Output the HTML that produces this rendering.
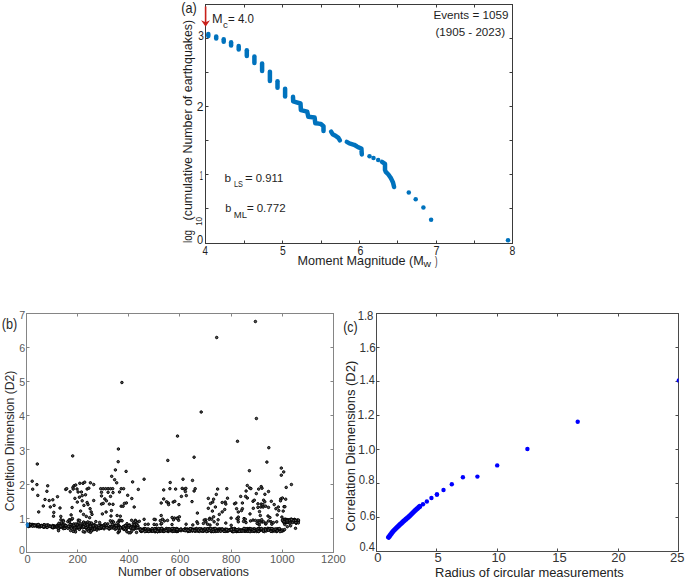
<!DOCTYPE html>
<html><head><meta charset="utf-8"><style>
html,body{margin:0;padding:0;background:#fff;}
svg{display:block;font-family:"Liberation Sans", sans-serif;}
</style></head><body>
<svg width="685" height="581" viewBox="0 0 685 581">
<rect width="685" height="581" fill="#fff"/>
<rect x="205.5" y="4.5" width="307.0" height="239.0" fill="none" stroke="#3a3a3a" stroke-width="1"/>
<line x1="244.5" y1="243.5" x2="244.5" y2="240.5" stroke="#3a3a3a" stroke-width="1"/>
<line x1="244.5" y1="4.5" x2="244.5" y2="7.5" stroke="#3a3a3a" stroke-width="1"/>
<line x1="282.5" y1="243.5" x2="282.5" y2="240.5" stroke="#3a3a3a" stroke-width="1"/>
<line x1="282.5" y1="4.5" x2="282.5" y2="7.5" stroke="#3a3a3a" stroke-width="1"/>
<line x1="321.5" y1="243.5" x2="321.5" y2="240.5" stroke="#3a3a3a" stroke-width="1"/>
<line x1="321.5" y1="4.5" x2="321.5" y2="7.5" stroke="#3a3a3a" stroke-width="1"/>
<line x1="359.5" y1="243.5" x2="359.5" y2="240.5" stroke="#3a3a3a" stroke-width="1"/>
<line x1="359.5" y1="4.5" x2="359.5" y2="7.5" stroke="#3a3a3a" stroke-width="1"/>
<line x1="397.5" y1="243.5" x2="397.5" y2="240.5" stroke="#3a3a3a" stroke-width="1"/>
<line x1="397.5" y1="4.5" x2="397.5" y2="7.5" stroke="#3a3a3a" stroke-width="1"/>
<line x1="436.5" y1="243.5" x2="436.5" y2="240.5" stroke="#3a3a3a" stroke-width="1"/>
<line x1="436.5" y1="4.5" x2="436.5" y2="7.5" stroke="#3a3a3a" stroke-width="1"/>
<line x1="474.5" y1="243.5" x2="474.5" y2="240.5" stroke="#3a3a3a" stroke-width="1"/>
<line x1="474.5" y1="4.5" x2="474.5" y2="7.5" stroke="#3a3a3a" stroke-width="1"/>
<line x1="205.5" y1="208.5" x2="208.5" y2="208.5" stroke="#3a3a3a" stroke-width="1"/>
<line x1="512.5" y1="208.5" x2="509.5" y2="208.5" stroke="#3a3a3a" stroke-width="1"/>
<line x1="205.5" y1="174.5" x2="208.5" y2="174.5" stroke="#3a3a3a" stroke-width="1"/>
<line x1="512.5" y1="174.5" x2="509.5" y2="174.5" stroke="#3a3a3a" stroke-width="1"/>
<line x1="205.5" y1="140.5" x2="208.5" y2="140.5" stroke="#3a3a3a" stroke-width="1"/>
<line x1="512.5" y1="140.5" x2="509.5" y2="140.5" stroke="#3a3a3a" stroke-width="1"/>
<line x1="205.5" y1="106.5" x2="208.5" y2="106.5" stroke="#3a3a3a" stroke-width="1"/>
<line x1="512.5" y1="106.5" x2="509.5" y2="106.5" stroke="#3a3a3a" stroke-width="1"/>
<line x1="205.5" y1="72.5" x2="208.5" y2="72.5" stroke="#3a3a3a" stroke-width="1"/>
<line x1="512.5" y1="72.5" x2="509.5" y2="72.5" stroke="#3a3a3a" stroke-width="1"/>
<line x1="205.5" y1="38.5" x2="208.5" y2="38.5" stroke="#3a3a3a" stroke-width="1"/>
<line x1="512.5" y1="38.5" x2="509.5" y2="38.5" stroke="#3a3a3a" stroke-width="1"/>
<line x1="208.3" y1="33.9" x2="208.3" y2="35.9" stroke="#0072bd" stroke-width="4.5" stroke-linecap="round"/>
<line x1="216.2" y1="36.6" x2="216.2" y2="38.4" stroke="#0072bd" stroke-width="4.5" stroke-linecap="round"/>
<line x1="223.7" y1="39.35" x2="223.7" y2="41.75" stroke="#0072bd" stroke-width="4.5" stroke-linecap="round"/>
<line x1="231.1" y1="42.25" x2="231.1" y2="45.45" stroke="#0072bd" stroke-width="4.5" stroke-linecap="round"/>
<line x1="238.7" y1="45.95" x2="238.7" y2="49.55" stroke="#0072bd" stroke-width="4.5" stroke-linecap="round"/>
<line x1="246.8" y1="50.35" x2="246.8" y2="56.05" stroke="#0072bd" stroke-width="4.5" stroke-linecap="round"/>
<line x1="254.4" y1="56.45" x2="254.4" y2="62.95" stroke="#0072bd" stroke-width="4.5" stroke-linecap="round"/>
<line x1="262.1" y1="63.55" x2="262.1" y2="70.95" stroke="#0072bd" stroke-width="4.5" stroke-linecap="round"/>
<line x1="269.9" y1="71.85" x2="269.9" y2="80.95" stroke="#0072bd" stroke-width="4.5" stroke-linecap="round"/>
<line x1="277.5" y1="81.35" x2="277.5" y2="87.85" stroke="#0072bd" stroke-width="4.5" stroke-linecap="round"/>
<line x1="285.1" y1="88.65" x2="285.1" y2="96.55" stroke="#0072bd" stroke-width="4.5" stroke-linecap="round"/>
<polyline points="293,96.8 293.2,101.3 300.5,103.5 300.9,110.1 307.2,111.6 308.3,116.8 314.6,117.5 315.3,123.3 318.4,123.6 320.9,124 323.5,126.2 323.5,131" fill="none" stroke="#0072bd" stroke-width="4.5" stroke-linecap="round" stroke-linejoin="round"/>
<polyline points="331.1,131.7 332.6,134.2 335.5,135.7 338.4,137.9 339.9,140.4" fill="none" stroke="#0072bd" stroke-width="4.5" stroke-linecap="round" stroke-linejoin="round"/>
<polyline points="346.8,141.9 349.4,143.4 354.1,144.8 356.7,146.3 358.5,147.4 361.4,148.5 361.8,154.4" fill="none" stroke="#0072bd" stroke-width="4.5" stroke-linecap="round" stroke-linejoin="round"/>
<polyline points="382,161.9 385,163.9 385,166.9 385,170 385.8,171.9 388.4,174.5 390.3,177.2 391.4,179.1 393,182.5 394.1,187" fill="none" stroke="#0072bd" stroke-width="4.5" stroke-linecap="round" stroke-linejoin="round"/>
<circle cx="369.5" cy="156.2" r="2.25" fill="#0072bd"/>
<circle cx="373.5" cy="158.1" r="2.25" fill="#0072bd"/>
<circle cx="378.2" cy="160" r="2.25" fill="#0072bd"/>
<circle cx="408.8" cy="192.4" r="2.25" fill="#0072bd"/>
<circle cx="415.7" cy="199.2" r="2.25" fill="#0072bd"/>
<circle cx="423.4" cy="207.6" r="2.25" fill="#0072bd"/>
<circle cx="431.1" cy="219.8" r="2.25" fill="#0072bd"/>
<circle cx="508" cy="240.2" r="2.25" fill="#0072bd"/>
<line x1="205.6" y1="6.5" x2="205.6" y2="23" stroke="#c8201a" stroke-width="1.6"/>
<path d="M201.1,20.3 L205.6,26.8 L210,20.3 L205.6,22.3 Z" fill="#c8201a"/>
<text x="202.43" y="254.70" font-size="12.1" textLength="5.41" lengthAdjust="spacingAndGlyphs" fill="#1e1e1e">4</text>
<text x="279.99" y="254.70" font-size="12.1" textLength="5.75" lengthAdjust="spacingAndGlyphs" fill="#1e1e1e">5</text>
<text x="357.41" y="254.70" font-size="12.1" textLength="5.91" lengthAdjust="spacingAndGlyphs" fill="#1e1e1e">6</text>
<text x="433.60" y="254.70" font-size="12.1" textLength="5.99" lengthAdjust="spacingAndGlyphs" fill="#1e1e1e">7</text>
<text x="509.50" y="254.70" font-size="12.1" textLength="5.80" lengthAdjust="spacingAndGlyphs" fill="#1e1e1e">8</text>
<text x="198.27" y="39.50" font-size="12.1" textLength="5.63" lengthAdjust="spacingAndGlyphs" fill="#1e1e1e">3</text>
<text x="196.75" y="110.60" font-size="12.1" textLength="6.71" lengthAdjust="spacingAndGlyphs" fill="#1e1e1e">2</text>
<text x="199.83" y="179.60" font-size="12.1" textLength="3.10" lengthAdjust="spacingAndGlyphs" fill="#1e1e1e">1</text>
<text x="196.92" y="243.60" font-size="12.1" textLength="6.17" lengthAdjust="spacingAndGlyphs" fill="#1e1e1e">0</text>
<text x="181.37" y="13.20" font-size="14.3" textLength="15.47" lengthAdjust="spacingAndGlyphs" fill="#1e1e1e">(a)</text>
<text x="212.11" y="22.60" font-size="12.3" textLength="10.58" lengthAdjust="spacingAndGlyphs" fill="#1e1e1e">M</text>
<text x="223.04" y="27.60" font-size="9.5" textLength="4.86" lengthAdjust="spacingAndGlyphs" fill="#1e1e1e">c</text>
<text x="227.99" y="22.60" font-size="12.3" textLength="25.91" lengthAdjust="spacingAndGlyphs" fill="#1e1e1e">= 4.0</text>
<text x="433.49" y="18.70" font-size="11.8" textLength="75.01" lengthAdjust="spacingAndGlyphs" fill="#1e1e1e">Events = 1059</text>
<text x="435.53" y="35.80" font-size="11.7" textLength="69.54" lengthAdjust="spacingAndGlyphs" fill="#1e1e1e">(1905 - 2023)</text>
<text x="224.48" y="182.00" font-size="11.6" textLength="6.56" lengthAdjust="spacingAndGlyphs" fill="#1e1e1e">b</text>
<text x="234.05" y="186.70" font-size="8.7" textLength="8.94" lengthAdjust="spacingAndGlyphs" fill="#1e1e1e">LS</text>
<text x="245.10" y="182.00" font-size="11.4" textLength="7.69" lengthAdjust="spacingAndGlyphs" fill="#1e1e1e">=</text>
<text x="255.81" y="182.00" font-size="11.3" textLength="27.40" lengthAdjust="spacingAndGlyphs" fill="#1e1e1e">0.911</text>
<text x="225.24" y="212.40" font-size="11.6" textLength="6.07" lengthAdjust="spacingAndGlyphs" fill="#1e1e1e">b</text>
<text x="233.87" y="217.80" font-size="8.7" textLength="13.19" lengthAdjust="spacingAndGlyphs" fill="#1e1e1e">ML</text>
<text x="246.86" y="212.40" font-size="11.4" textLength="7.09" lengthAdjust="spacingAndGlyphs" fill="#1e1e1e">=</text>
<text x="256.70" y="212.40" font-size="11.3" textLength="28.93" lengthAdjust="spacingAndGlyphs" fill="#1e1e1e">0.772</text>
<text x="297.51" y="264.80" font-size="12.6" textLength="126.27" lengthAdjust="spacingAndGlyphs" fill="#1e1e1e">Moment Magnitude (M</text>
<text x="423.46" y="266.80" font-size="8.5" textLength="7.47" lengthAdjust="spacingAndGlyphs" fill="#1e1e1e">w</text>
<text x="434.90" y="264.80" font-size="12.6" textLength="2.51" lengthAdjust="spacingAndGlyphs" fill="#1e1e1e">)</text>
<text transform="translate(191.60,242.35) rotate(-90)" x="-0.65" y="0" font-size="12.3" textLength="12.98" lengthAdjust="spacingAndGlyphs" fill="#1e1e1e">log</text>
<text transform="translate(202.20,225.25) rotate(-90)" x="-0.61" y="0" font-size="8.5" textLength="8.93" lengthAdjust="spacingAndGlyphs" fill="#1e1e1e">10</text>
<text transform="translate(191.60,219.65) rotate(-90)" x="-0.77" y="0" font-size="12.3" textLength="200.54" lengthAdjust="spacingAndGlyphs" fill="#1e1e1e">(cumulative Number of earthquakes)</text>
<rect x="26.5" y="313.5" width="307.0" height="239.0" fill="none" stroke="#858585" stroke-width="1"/>
<line x1="77.5" y1="552.5" x2="77.5" y2="549.5" stroke="#858585" stroke-width="1"/>
<line x1="77.5" y1="313.5" x2="77.5" y2="316.5" stroke="#858585" stroke-width="1"/>
<line x1="128.5" y1="552.5" x2="128.5" y2="549.5" stroke="#858585" stroke-width="1"/>
<line x1="128.5" y1="313.5" x2="128.5" y2="316.5" stroke="#858585" stroke-width="1"/>
<line x1="179.5" y1="552.5" x2="179.5" y2="549.5" stroke="#858585" stroke-width="1"/>
<line x1="179.5" y1="313.5" x2="179.5" y2="316.5" stroke="#858585" stroke-width="1"/>
<line x1="231.5" y1="552.5" x2="231.5" y2="549.5" stroke="#858585" stroke-width="1"/>
<line x1="231.5" y1="313.5" x2="231.5" y2="316.5" stroke="#858585" stroke-width="1"/>
<line x1="282.5" y1="552.5" x2="282.5" y2="549.5" stroke="#858585" stroke-width="1"/>
<line x1="282.5" y1="313.5" x2="282.5" y2="316.5" stroke="#858585" stroke-width="1"/>
<line x1="26.5" y1="518.5" x2="29.5" y2="518.5" stroke="#858585" stroke-width="1"/>
<line x1="333.5" y1="518.5" x2="330.5" y2="518.5" stroke="#858585" stroke-width="1"/>
<line x1="26.5" y1="484.5" x2="29.5" y2="484.5" stroke="#858585" stroke-width="1"/>
<line x1="333.5" y1="484.5" x2="330.5" y2="484.5" stroke="#858585" stroke-width="1"/>
<line x1="26.5" y1="449.5" x2="29.5" y2="449.5" stroke="#858585" stroke-width="1"/>
<line x1="333.5" y1="449.5" x2="330.5" y2="449.5" stroke="#858585" stroke-width="1"/>
<line x1="26.5" y1="415.5" x2="29.5" y2="415.5" stroke="#858585" stroke-width="1"/>
<line x1="333.5" y1="415.5" x2="330.5" y2="415.5" stroke="#858585" stroke-width="1"/>
<line x1="26.5" y1="381.5" x2="29.5" y2="381.5" stroke="#858585" stroke-width="1"/>
<line x1="333.5" y1="381.5" x2="330.5" y2="381.5" stroke="#858585" stroke-width="1"/>
<line x1="26.5" y1="347.5" x2="29.5" y2="347.5" stroke="#858585" stroke-width="1"/>
<line x1="333.5" y1="347.5" x2="330.5" y2="347.5" stroke="#858585" stroke-width="1"/>
<text x="19.10" y="553.70" font-size="11.3" textLength="5.97" lengthAdjust="spacingAndGlyphs" fill="#5a5a5a">0</text>
<text x="19.21" y="522.87" font-size="11.3" textLength="5.97" lengthAdjust="spacingAndGlyphs" fill="#5a5a5a">1</text>
<text x="19.22" y="488.74" font-size="11.3" textLength="5.97" lengthAdjust="spacingAndGlyphs" fill="#5a5a5a">2</text>
<text x="19.15" y="454.61" font-size="11.3" textLength="5.97" lengthAdjust="spacingAndGlyphs" fill="#5a5a5a">3</text>
<text x="18.99" y="420.48" font-size="11.3" textLength="5.97" lengthAdjust="spacingAndGlyphs" fill="#5a5a5a">4</text>
<text x="19.13" y="386.35" font-size="11.3" textLength="5.97" lengthAdjust="spacingAndGlyphs" fill="#5a5a5a">5</text>
<text x="19.15" y="352.22" font-size="11.3" textLength="5.97" lengthAdjust="spacingAndGlyphs" fill="#5a5a5a">6</text>
<text x="19.22" y="319.29" font-size="11.3" textLength="5.97" lengthAdjust="spacingAndGlyphs" fill="#5a5a5a">7</text>
<text x="24.42" y="562.60" font-size="11.3" textLength="6.16" lengthAdjust="spacingAndGlyphs" fill="#5a5a5a">0</text>
<text x="68.55" y="562.60" font-size="11.3" textLength="18.48" lengthAdjust="spacingAndGlyphs" fill="#5a5a5a">200</text>
<text x="119.85" y="562.60" font-size="11.3" textLength="18.48" lengthAdjust="spacingAndGlyphs" fill="#5a5a5a">400</text>
<text x="170.85" y="562.60" font-size="11.3" textLength="18.48" lengthAdjust="spacingAndGlyphs" fill="#5a5a5a">600</text>
<text x="222.04" y="562.60" font-size="11.3" textLength="18.48" lengthAdjust="spacingAndGlyphs" fill="#5a5a5a">800</text>
<text x="269.93" y="562.60" font-size="11.3" textLength="24.64" lengthAdjust="spacingAndGlyphs" fill="#5a5a5a">1000</text>
<text x="321.08" y="562.60" font-size="11.3" textLength="24.64" lengthAdjust="spacingAndGlyphs" fill="#5a5a5a">1200</text>
<text x="1.76" y="329.20" font-size="14.3" textLength="15.58" lengthAdjust="spacingAndGlyphs" fill="#2a2a2a">(b)</text>
<text x="117.94" y="575.60" font-size="12.3" textLength="131.06" lengthAdjust="spacingAndGlyphs" fill="#2a2a2a">Number of observations</text>
<text transform="translate(13.80,510.65) rotate(-90)" x="-0.62" y="0" font-size="12.2" textLength="140.68" lengthAdjust="spacingAndGlyphs" fill="#2a2a2a">Correltion Dimension (D2)</text>
<g fill="#555" stroke="#000" stroke-width="0.95"><circle cx="37.4" cy="524.8" r="1.25"/><circle cx="47.4" cy="525.0" r="1.25"/><circle cx="43.8" cy="525.6" r="1.25"/><circle cx="29.3" cy="525.4" r="1.25"/><circle cx="28.6" cy="525.2" r="1.25"/><circle cx="29.6" cy="524.3" r="1.25"/><circle cx="40.4" cy="526.7" r="1.25"/><circle cx="31.3" cy="524.7" r="1.25"/><circle cx="46.6" cy="527.3" r="1.25"/><circle cx="45.1" cy="525.8" r="1.25"/><circle cx="57.3" cy="525.4" r="1.25"/><circle cx="53.7" cy="525.9" r="1.25"/><circle cx="31.9" cy="524.5" r="1.25"/><circle cx="36.9" cy="526.5" r="1.25"/><circle cx="33.0" cy="525.7" r="1.25"/><circle cx="47.0" cy="525.8" r="1.25"/><circle cx="44.2" cy="524.9" r="1.25"/><circle cx="29.3" cy="524.6" r="1.25"/><circle cx="48.3" cy="526.0" r="1.25"/><circle cx="37.1" cy="525.9" r="1.25"/><circle cx="41.3" cy="525.4" r="1.25"/><circle cx="51.7" cy="526.9" r="1.25"/><circle cx="34.9" cy="525.8" r="1.25"/><circle cx="43.5" cy="527.0" r="1.25"/><circle cx="49.7" cy="525.7" r="1.25"/><circle cx="57.4" cy="525.6" r="1.25"/><circle cx="40.3" cy="526.5" r="1.25"/><circle cx="32.1" cy="525.5" r="1.25"/><circle cx="28.7" cy="525.8" r="1.25"/><circle cx="50.8" cy="526.5" r="1.25"/><circle cx="54.2" cy="526.0" r="1.25"/><circle cx="48.7" cy="526.4" r="1.25"/><circle cx="45.2" cy="525.9" r="1.25"/><circle cx="53.1" cy="527.5" r="1.25"/><circle cx="42.0" cy="526.3" r="1.25"/><circle cx="29.4" cy="525.9" r="1.25"/><circle cx="47.2" cy="527.4" r="1.25"/><circle cx="52.6" cy="525.8" r="1.25"/><circle cx="39.3" cy="526.2" r="1.25"/><circle cx="28.2" cy="525.2" r="1.25"/><circle cx="32.6" cy="524.5" r="1.25"/><circle cx="29.3" cy="526.1" r="1.25"/><circle cx="31.4" cy="524.8" r="1.25"/><circle cx="39.4" cy="526.8" r="1.25"/><circle cx="30.0" cy="525.3" r="1.25"/><circle cx="44.3" cy="527.0" r="1.25"/><circle cx="52.5" cy="527.3" r="1.25"/><circle cx="36.0" cy="525.4" r="1.25"/><circle cx="38.4" cy="526.8" r="1.25"/><circle cx="56.7" cy="525.6" r="1.25"/><circle cx="32.9" cy="524.8" r="1.25"/><circle cx="34.6" cy="525.6" r="1.25"/><circle cx="45.5" cy="525.4" r="1.25"/><circle cx="27.6" cy="525.1" r="1.25"/><circle cx="38.8" cy="526.0" r="1.25"/><circle cx="56.6" cy="527.0" r="1.25"/><circle cx="43.2" cy="526.3" r="1.25"/><circle cx="48.1" cy="525.0" r="1.25"/><circle cx="54.9" cy="527.2" r="1.25"/><circle cx="54.2" cy="527.2" r="1.25"/><circle cx="39.5" cy="525.5" r="1.25"/><circle cx="30.7" cy="525.8" r="1.25"/><circle cx="29.4" cy="524.3" r="1.25"/><circle cx="33.9" cy="524.7" r="1.25"/><circle cx="37.9" cy="524.6" r="1.25"/><circle cx="27.5" cy="524.4" r="1.25"/><circle cx="30.6" cy="525.1" r="1.25"/><circle cx="28.3" cy="526.3" r="1.25"/><circle cx="46.2" cy="525.2" r="1.25"/><circle cx="35.2" cy="525.2" r="1.25"/><circle cx="38.6" cy="524.8" r="1.25"/><circle cx="53.4" cy="527.7" r="1.25"/><circle cx="41.7" cy="525.9" r="1.25"/><circle cx="30.1" cy="524.4" r="1.25"/><circle cx="38.0" cy="525.1" r="1.25"/><circle cx="52.8" cy="525.5" r="1.25"/><circle cx="28.2" cy="526.5" r="1.25"/><circle cx="43.6" cy="525.1" r="1.25"/><circle cx="44.1" cy="524.8" r="1.25"/><circle cx="43.6" cy="527.2" r="1.25"/><circle cx="53.8" cy="526.9" r="1.25"/><circle cx="35.5" cy="525.3" r="1.25"/><circle cx="32.6" cy="526.2" r="1.25"/><circle cx="43.7" cy="526.7" r="1.25"/><circle cx="37.6" cy="525.0" r="1.25"/><circle cx="52.3" cy="527.6" r="1.25"/><circle cx="53.5" cy="527.2" r="1.25"/><circle cx="52.5" cy="527.0" r="1.25"/><circle cx="34.4" cy="525.6" r="1.25"/><circle cx="38.3" cy="524.5" r="1.25"/><circle cx="28.4" cy="524.8" r="1.25"/><circle cx="79.3" cy="528.4" r="1.25"/><circle cx="94.7" cy="529.4" r="1.25"/><circle cx="136.3" cy="526.4" r="1.25"/><circle cx="76.6" cy="525.2" r="1.25"/><circle cx="109.2" cy="529.1" r="1.25"/><circle cx="97.3" cy="528.2" r="1.25"/><circle cx="65.0" cy="528.1" r="1.25"/><circle cx="122.1" cy="527.9" r="1.25"/><circle cx="72.6" cy="527.0" r="1.25"/><circle cx="123.7" cy="528.3" r="1.25"/><circle cx="90.9" cy="528.6" r="1.25"/><circle cx="71.9" cy="524.8" r="1.25"/><circle cx="132.2" cy="527.3" r="1.25"/><circle cx="125.8" cy="529.0" r="1.25"/><circle cx="86.7" cy="526.0" r="1.25"/><circle cx="59.2" cy="528.1" r="1.25"/><circle cx="101.2" cy="528.0" r="1.25"/><circle cx="129.5" cy="527.5" r="1.25"/><circle cx="78.7" cy="525.5" r="1.25"/><circle cx="106.1" cy="526.3" r="1.25"/><circle cx="68.7" cy="527.3" r="1.25"/><circle cx="95.6" cy="528.2" r="1.25"/><circle cx="92.5" cy="528.0" r="1.25"/><circle cx="101.6" cy="525.8" r="1.25"/><circle cx="94.1" cy="524.8" r="1.25"/><circle cx="123.5" cy="526.4" r="1.25"/><circle cx="117.5" cy="526.9" r="1.25"/><circle cx="100.5" cy="527.9" r="1.25"/><circle cx="66.7" cy="526.1" r="1.25"/><circle cx="80.7" cy="527.5" r="1.25"/><circle cx="104.1" cy="528.8" r="1.25"/><circle cx="94.3" cy="527.3" r="1.25"/><circle cx="100.0" cy="527.4" r="1.25"/><circle cx="101.7" cy="528.1" r="1.25"/><circle cx="115.3" cy="529.3" r="1.25"/><circle cx="79.3" cy="528.1" r="1.25"/><circle cx="126.9" cy="525.4" r="1.25"/><circle cx="94.3" cy="525.2" r="1.25"/><circle cx="64.0" cy="527.8" r="1.25"/><circle cx="131.6" cy="527.1" r="1.25"/><circle cx="112.1" cy="527.2" r="1.25"/><circle cx="137.3" cy="527.9" r="1.25"/><circle cx="90.7" cy="528.1" r="1.25"/><circle cx="126.3" cy="526.3" r="1.25"/><circle cx="100.3" cy="525.8" r="1.25"/><circle cx="84.1" cy="526.1" r="1.25"/><circle cx="103.4" cy="525.6" r="1.25"/><circle cx="85.2" cy="527.2" r="1.25"/><circle cx="63.3" cy="528.6" r="1.25"/><circle cx="137.7" cy="525.8" r="1.25"/><circle cx="61.2" cy="526.7" r="1.25"/><circle cx="68.6" cy="527.5" r="1.25"/><circle cx="125.2" cy="525.8" r="1.25"/><circle cx="133.4" cy="528.1" r="1.25"/><circle cx="65.3" cy="525.9" r="1.25"/><circle cx="92.9" cy="527.0" r="1.25"/><circle cx="110.0" cy="526.8" r="1.25"/><circle cx="128.2" cy="527.2" r="1.25"/><circle cx="95.2" cy="526.7" r="1.25"/><circle cx="134.0" cy="525.9" r="1.25"/><circle cx="101.2" cy="525.3" r="1.25"/><circle cx="71.2" cy="524.7" r="1.25"/><circle cx="83.6" cy="527.0" r="1.25"/><circle cx="81.8" cy="526.0" r="1.25"/><circle cx="86.5" cy="524.9" r="1.25"/><circle cx="59.3" cy="527.3" r="1.25"/><circle cx="73.5" cy="527.8" r="1.25"/><circle cx="66.7" cy="527.3" r="1.25"/><circle cx="98.6" cy="527.6" r="1.25"/><circle cx="99.5" cy="528.7" r="1.25"/><circle cx="86.1" cy="528.2" r="1.25"/><circle cx="110.2" cy="526.5" r="1.25"/><circle cx="62.5" cy="524.5" r="1.25"/><circle cx="118.8" cy="525.7" r="1.25"/><circle cx="64.9" cy="528.4" r="1.25"/><circle cx="113.0" cy="525.9" r="1.25"/><circle cx="82.0" cy="525.8" r="1.25"/><circle cx="94.6" cy="527.5" r="1.25"/><circle cx="137.8" cy="526.9" r="1.25"/><circle cx="137.2" cy="526.6" r="1.25"/><circle cx="58.1" cy="526.1" r="1.25"/><circle cx="99.2" cy="526.2" r="1.25"/><circle cx="58.4" cy="524.8" r="1.25"/><circle cx="90.8" cy="524.5" r="1.25"/><circle cx="82.9" cy="526.3" r="1.25"/><circle cx="101.4" cy="528.1" r="1.25"/><circle cx="116.7" cy="527.9" r="1.25"/><circle cx="84.7" cy="527.2" r="1.25"/><circle cx="117.4" cy="526.4" r="1.25"/><circle cx="126.5" cy="528.7" r="1.25"/><circle cx="118.2" cy="527.1" r="1.25"/><circle cx="100.9" cy="527.9" r="1.25"/><circle cx="124.0" cy="528.4" r="1.25"/><circle cx="131.2" cy="528.4" r="1.25"/><circle cx="76.9" cy="524.6" r="1.25"/><circle cx="87.6" cy="526.7" r="1.25"/><circle cx="103.8" cy="527.7" r="1.25"/><circle cx="113.8" cy="525.9" r="1.25"/><circle cx="123.4" cy="528.0" r="1.25"/><circle cx="101.9" cy="526.3" r="1.25"/><circle cx="118.4" cy="525.5" r="1.25"/><circle cx="79.8" cy="526.6" r="1.25"/><circle cx="118.7" cy="528.5" r="1.25"/><circle cx="89.4" cy="527.3" r="1.25"/><circle cx="120.9" cy="527.9" r="1.25"/><circle cx="64.4" cy="525.0" r="1.25"/><circle cx="118.9" cy="526.9" r="1.25"/><circle cx="59.0" cy="524.8" r="1.25"/><circle cx="113.1" cy="528.1" r="1.25"/><circle cx="81.9" cy="526.7" r="1.25"/><circle cx="96.2" cy="527.0" r="1.25"/><circle cx="74.3" cy="529.1" r="1.25"/><circle cx="59.4" cy="527.2" r="1.25"/><circle cx="137.4" cy="526.7" r="1.25"/><circle cx="75.2" cy="527.1" r="1.25"/><circle cx="105.7" cy="526.2" r="1.25"/><circle cx="136.1" cy="527.3" r="1.25"/><circle cx="99.7" cy="528.5" r="1.25"/><circle cx="77.0" cy="527.7" r="1.25"/><circle cx="60.0" cy="525.2" r="1.25"/><circle cx="95.0" cy="525.5" r="1.25"/><circle cx="86.2" cy="527.3" r="1.25"/><circle cx="58.1" cy="528.0" r="1.25"/><circle cx="67.8" cy="528.3" r="1.25"/><circle cx="131.9" cy="526.5" r="1.25"/><circle cx="90.2" cy="528.4" r="1.25"/><circle cx="87.6" cy="526.1" r="1.25"/><circle cx="62.0" cy="526.4" r="1.25"/><circle cx="81.4" cy="527.3" r="1.25"/><circle cx="79.8" cy="526.0" r="1.25"/><circle cx="88.6" cy="529.1" r="1.25"/><circle cx="124.6" cy="528.7" r="1.25"/><circle cx="135.1" cy="528.1" r="1.25"/><circle cx="62.1" cy="527.0" r="1.25"/><circle cx="119.7" cy="527.1" r="1.25"/><circle cx="62.0" cy="526.7" r="1.25"/><circle cx="96.7" cy="526.0" r="1.25"/><circle cx="118.6" cy="527.9" r="1.25"/><circle cx="111.8" cy="526.8" r="1.25"/><circle cx="90.3" cy="525.1" r="1.25"/><circle cx="75.0" cy="527.8" r="1.25"/><circle cx="76.0" cy="529.1" r="1.25"/><circle cx="94.9" cy="525.2" r="1.25"/><circle cx="65.4" cy="525.1" r="1.25"/><circle cx="77.6" cy="526.3" r="1.25"/><circle cx="130.8" cy="527.8" r="1.25"/><circle cx="91.9" cy="526.7" r="1.25"/><circle cx="85.7" cy="525.1" r="1.25"/><circle cx="137.4" cy="526.5" r="1.25"/><circle cx="109.6" cy="527.3" r="1.25"/><circle cx="80.2" cy="525.9" r="1.25"/><circle cx="94.6" cy="529.0" r="1.25"/><circle cx="129.6" cy="524.9" r="1.25"/><circle cx="116.2" cy="528.2" r="1.25"/><circle cx="106.1" cy="525.5" r="1.25"/><circle cx="134.0" cy="529.2" r="1.25"/><circle cx="137.7" cy="525.8" r="1.25"/><circle cx="70.7" cy="527.2" r="1.25"/><circle cx="135.2" cy="528.4" r="1.25"/><circle cx="120.7" cy="527.3" r="1.25"/><circle cx="61.2" cy="526.6" r="1.25"/><circle cx="133.4" cy="527.3" r="1.25"/><circle cx="68.5" cy="526.3" r="1.25"/><circle cx="115.3" cy="525.1" r="1.25"/><circle cx="101.0" cy="526.9" r="1.25"/><circle cx="76.3" cy="525.7" r="1.25"/><circle cx="82.7" cy="527.9" r="1.25"/><circle cx="110.9" cy="528.1" r="1.25"/><circle cx="77.3" cy="527.3" r="1.25"/><circle cx="115.8" cy="525.5" r="1.25"/><circle cx="98.9" cy="527.2" r="1.25"/><circle cx="79.1" cy="528.3" r="1.25"/><circle cx="76.6" cy="525.1" r="1.25"/><circle cx="92.5" cy="526.6" r="1.25"/><circle cx="123.4" cy="527.9" r="1.25"/><circle cx="74.8" cy="527.4" r="1.25"/><circle cx="125.2" cy="525.9" r="1.25"/><circle cx="120.4" cy="527.9" r="1.25"/><circle cx="98.7" cy="525.5" r="1.25"/><circle cx="92.2" cy="528.5" r="1.25"/><circle cx="70.0" cy="524.3" r="1.25"/><circle cx="75.5" cy="531.9" r="1.25"/><circle cx="69.6" cy="519.8" r="1.25"/><circle cx="62.9" cy="524.2" r="1.25"/><circle cx="131.6" cy="531.4" r="1.25"/><circle cx="118.1" cy="532.7" r="1.25"/><circle cx="134.4" cy="524.2" r="1.25"/><circle cx="73.2" cy="531.4" r="1.25"/><circle cx="119.2" cy="520.2" r="1.25"/><circle cx="112.5" cy="524.6" r="1.25"/><circle cx="88.7" cy="523.7" r="1.25"/><circle cx="71.9" cy="519.2" r="1.25"/><circle cx="80.9" cy="523.8" r="1.25"/><circle cx="136.4" cy="521.6" r="1.25"/><circle cx="137.1" cy="522.7" r="1.25"/><circle cx="87.2" cy="530.0" r="1.25"/><circle cx="125.4" cy="525.4" r="1.25"/><circle cx="62.0" cy="525.2" r="1.25"/><circle cx="88.6" cy="531.3" r="1.25"/><circle cx="73.8" cy="523.9" r="1.25"/><circle cx="131.6" cy="520.3" r="1.25"/><circle cx="91.7" cy="530.0" r="1.25"/><circle cx="120.9" cy="520.3" r="1.25"/><circle cx="60.9" cy="519.8" r="1.25"/><circle cx="133.4" cy="523.3" r="1.25"/><circle cx="119.3" cy="531.4" r="1.25"/><circle cx="85.8" cy="522.9" r="1.25"/><circle cx="136.5" cy="528.0" r="1.25"/><circle cx="79.5" cy="528.6" r="1.25"/><circle cx="84.0" cy="522.9" r="1.25"/><circle cx="58.3" cy="528.8" r="1.25"/><circle cx="133.1" cy="528.2" r="1.25"/><circle cx="135.3" cy="520.3" r="1.25"/><circle cx="77.2" cy="525.4" r="1.25"/><circle cx="136.5" cy="532.4" r="1.25"/><circle cx="89.7" cy="522.7" r="1.25"/><circle cx="93.3" cy="525.8" r="1.25"/><circle cx="134.1" cy="522.3" r="1.25"/><circle cx="123.8" cy="529.4" r="1.25"/><circle cx="125.5" cy="529.9" r="1.25"/><circle cx="107.8" cy="523.9" r="1.25"/><circle cx="84.2" cy="524.0" r="1.25"/><circle cx="122.1" cy="520.8" r="1.25"/><circle cx="74.2" cy="529.0" r="1.25"/><circle cx="78.3" cy="520.1" r="1.25"/><circle cx="60.8" cy="526.2" r="1.25"/><circle cx="84.7" cy="532.1" r="1.25"/><circle cx="130.4" cy="532.7" r="1.25"/><circle cx="79.7" cy="520.4" r="1.25"/><circle cx="65.9" cy="525.6" r="1.25"/><circle cx="116.2" cy="525.5" r="1.25"/><circle cx="77.2" cy="524.7" r="1.25"/><circle cx="108.9" cy="528.4" r="1.25"/><circle cx="119.3" cy="530.8" r="1.25"/><circle cx="112.5" cy="521.2" r="1.25"/><circle cx="127.0" cy="523.7" r="1.25"/><circle cx="104.5" cy="524.4" r="1.25"/><circle cx="118.5" cy="522.3" r="1.25"/><circle cx="78.3" cy="522.4" r="1.25"/><circle cx="70.6" cy="530.6" r="1.25"/><circle cx="105.4" cy="523.8" r="1.25"/><circle cx="90.5" cy="532.3" r="1.25"/><circle cx="99.6" cy="522.5" r="1.25"/><circle cx="124.3" cy="528.3" r="1.25"/><circle cx="139.3" cy="521.3" r="1.25"/><circle cx="96.9" cy="530.1" r="1.25"/><circle cx="126.9" cy="531.7" r="1.25"/><circle cx="61.3" cy="522.9" r="1.25"/><circle cx="67.8" cy="521.6" r="1.25"/><circle cx="137.8" cy="527.6" r="1.25"/><circle cx="134.3" cy="524.8" r="1.25"/><circle cx="129.0" cy="525.7" r="1.25"/><circle cx="79.3" cy="529.4" r="1.25"/><circle cx="135.5" cy="521.3" r="1.25"/><circle cx="106.9" cy="527.7" r="1.25"/><circle cx="75.8" cy="524.0" r="1.25"/><circle cx="69.6" cy="521.8" r="1.25"/><circle cx="78.9" cy="527.0" r="1.25"/><circle cx="111.4" cy="522.3" r="1.25"/><circle cx="58.9" cy="523.3" r="1.25"/><circle cx="113.6" cy="522.1" r="1.25"/><circle cx="83.6" cy="522.0" r="1.25"/><circle cx="123.2" cy="526.9" r="1.25"/><circle cx="63.2" cy="520.4" r="1.25"/><circle cx="90.4" cy="526.5" r="1.25"/><circle cx="110.4" cy="520.8" r="1.25"/><circle cx="71.4" cy="528.2" r="1.25"/><circle cx="91.6" cy="523.1" r="1.25"/><circle cx="83.2" cy="531.7" r="1.25"/><circle cx="83.6" cy="526.7" r="1.25"/><circle cx="87.3" cy="524.8" r="1.25"/><circle cx="128.9" cy="532.8" r="1.25"/><circle cx="87.8" cy="521.9" r="1.25"/><circle cx="117.7" cy="522.4" r="1.25"/><circle cx="58.5" cy="530.7" r="1.25"/><circle cx="92.7" cy="530.1" r="1.25"/><circle cx="91.3" cy="530.9" r="1.25"/><circle cx="95.8" cy="521.6" r="1.25"/><circle cx="142.2" cy="530.2" r="1.25"/><circle cx="232.9" cy="531.3" r="1.25"/><circle cx="152.9" cy="530.4" r="1.25"/><circle cx="193.8" cy="530.0" r="1.25"/><circle cx="161.2" cy="529.3" r="1.25"/><circle cx="215.6" cy="531.4" r="1.25"/><circle cx="155.8" cy="530.0" r="1.25"/><circle cx="256.7" cy="531.5" r="1.25"/><circle cx="168.6" cy="528.8" r="1.25"/><circle cx="276.7" cy="531.5" r="1.25"/><circle cx="210.0" cy="528.6" r="1.25"/><circle cx="274.3" cy="529.6" r="1.25"/><circle cx="271.1" cy="530.4" r="1.25"/><circle cx="259.6" cy="528.9" r="1.25"/><circle cx="253.9" cy="529.1" r="1.25"/><circle cx="198.7" cy="531.1" r="1.25"/><circle cx="260.2" cy="529.0" r="1.25"/><circle cx="171.6" cy="529.7" r="1.25"/><circle cx="215.1" cy="529.6" r="1.25"/><circle cx="157.8" cy="529.2" r="1.25"/><circle cx="245.1" cy="531.3" r="1.25"/><circle cx="146.0" cy="530.2" r="1.25"/><circle cx="249.8" cy="528.5" r="1.25"/><circle cx="261.5" cy="528.8" r="1.25"/><circle cx="226.9" cy="530.2" r="1.25"/><circle cx="230.9" cy="529.4" r="1.25"/><circle cx="200.9" cy="530.3" r="1.25"/><circle cx="201.7" cy="530.5" r="1.25"/><circle cx="204.8" cy="529.8" r="1.25"/><circle cx="143.4" cy="530.4" r="1.25"/><circle cx="211.0" cy="529.2" r="1.25"/><circle cx="250.7" cy="530.9" r="1.25"/><circle cx="206.5" cy="529.0" r="1.25"/><circle cx="208.6" cy="528.7" r="1.25"/><circle cx="158.6" cy="529.8" r="1.25"/><circle cx="153.3" cy="529.8" r="1.25"/><circle cx="214.0" cy="528.5" r="1.25"/><circle cx="232.3" cy="528.7" r="1.25"/><circle cx="246.4" cy="530.9" r="1.25"/><circle cx="214.2" cy="528.6" r="1.25"/><circle cx="213.1" cy="529.6" r="1.25"/><circle cx="277.9" cy="528.8" r="1.25"/><circle cx="264.3" cy="531.6" r="1.25"/><circle cx="246.2" cy="531.0" r="1.25"/><circle cx="168.1" cy="531.5" r="1.25"/><circle cx="211.3" cy="531.5" r="1.25"/><circle cx="272.8" cy="528.9" r="1.25"/><circle cx="254.3" cy="531.4" r="1.25"/><circle cx="149.5" cy="529.5" r="1.25"/><circle cx="249.6" cy="528.9" r="1.25"/><circle cx="270.0" cy="529.3" r="1.25"/><circle cx="258.3" cy="528.9" r="1.25"/><circle cx="212.8" cy="531.3" r="1.25"/><circle cx="170.2" cy="529.2" r="1.25"/><circle cx="213.4" cy="529.4" r="1.25"/><circle cx="145.3" cy="529.0" r="1.25"/><circle cx="163.4" cy="531.4" r="1.25"/><circle cx="238.6" cy="531.3" r="1.25"/><circle cx="164.5" cy="530.9" r="1.25"/><circle cx="156.7" cy="530.1" r="1.25"/><circle cx="232.3" cy="529.6" r="1.25"/><circle cx="266.6" cy="530.2" r="1.25"/><circle cx="224.1" cy="531.2" r="1.25"/><circle cx="155.2" cy="531.6" r="1.25"/><circle cx="231.3" cy="529.7" r="1.25"/><circle cx="255.7" cy="529.2" r="1.25"/><circle cx="283.6" cy="530.2" r="1.25"/><circle cx="192.2" cy="530.8" r="1.25"/><circle cx="204.1" cy="529.0" r="1.25"/><circle cx="247.8" cy="528.6" r="1.25"/><circle cx="258.9" cy="529.2" r="1.25"/><circle cx="232.7" cy="531.5" r="1.25"/><circle cx="225.0" cy="530.5" r="1.25"/><circle cx="185.3" cy="528.4" r="1.25"/><circle cx="144.9" cy="528.9" r="1.25"/><circle cx="229.3" cy="529.8" r="1.25"/><circle cx="214.3" cy="531.3" r="1.25"/><circle cx="159.1" cy="529.1" r="1.25"/><circle cx="234.7" cy="528.5" r="1.25"/><circle cx="140.4" cy="529.5" r="1.25"/><circle cx="155.4" cy="529.5" r="1.25"/><circle cx="172.5" cy="530.3" r="1.25"/><circle cx="225.4" cy="529.1" r="1.25"/><circle cx="230.5" cy="529.9" r="1.25"/><circle cx="159.5" cy="531.4" r="1.25"/><circle cx="175.3" cy="528.9" r="1.25"/><circle cx="153.9" cy="530.4" r="1.25"/><circle cx="266.3" cy="530.9" r="1.25"/><circle cx="198.3" cy="529.2" r="1.25"/><circle cx="141.7" cy="530.5" r="1.25"/><circle cx="221.5" cy="529.5" r="1.25"/><circle cx="233.6" cy="529.8" r="1.25"/><circle cx="275.9" cy="530.7" r="1.25"/><circle cx="176.0" cy="531.3" r="1.25"/><circle cx="146.4" cy="530.1" r="1.25"/><circle cx="198.9" cy="529.2" r="1.25"/><circle cx="148.5" cy="530.9" r="1.25"/><circle cx="141.8" cy="530.2" r="1.25"/><circle cx="276.4" cy="528.9" r="1.25"/><circle cx="168.9" cy="530.3" r="1.25"/><circle cx="213.5" cy="530.5" r="1.25"/><circle cx="257.9" cy="529.0" r="1.25"/><circle cx="184.9" cy="529.4" r="1.25"/><circle cx="147.0" cy="531.2" r="1.25"/><circle cx="253.5" cy="530.7" r="1.25"/><circle cx="140.9" cy="531.1" r="1.25"/><circle cx="248.1" cy="529.9" r="1.25"/><circle cx="247.6" cy="529.8" r="1.25"/><circle cx="172.8" cy="528.7" r="1.25"/><circle cx="173.7" cy="528.5" r="1.25"/><circle cx="188.6" cy="530.8" r="1.25"/><circle cx="240.8" cy="531.1" r="1.25"/><circle cx="243.2" cy="529.3" r="1.25"/><circle cx="220.3" cy="529.8" r="1.25"/><circle cx="254.3" cy="530.1" r="1.25"/><circle cx="178.5" cy="530.5" r="1.25"/><circle cx="279.9" cy="529.1" r="1.25"/><circle cx="267.6" cy="528.4" r="1.25"/><circle cx="177.8" cy="529.2" r="1.25"/><circle cx="247.9" cy="531.4" r="1.25"/><circle cx="248.2" cy="529.4" r="1.25"/><circle cx="267.6" cy="529.5" r="1.25"/><circle cx="174.7" cy="531.3" r="1.25"/><circle cx="231.5" cy="530.6" r="1.25"/><circle cx="236.5" cy="531.5" r="1.25"/><circle cx="208.1" cy="531.1" r="1.25"/><circle cx="241.2" cy="531.1" r="1.25"/><circle cx="203.4" cy="530.7" r="1.25"/><circle cx="222.7" cy="529.4" r="1.25"/><circle cx="170.7" cy="530.4" r="1.25"/><circle cx="151.3" cy="531.3" r="1.25"/><circle cx="161.0" cy="528.5" r="1.25"/><circle cx="155.5" cy="531.4" r="1.25"/><circle cx="190.0" cy="528.9" r="1.25"/><circle cx="144.2" cy="528.5" r="1.25"/><circle cx="240.4" cy="530.4" r="1.25"/><circle cx="241.1" cy="530.8" r="1.25"/><circle cx="149.5" cy="530.3" r="1.25"/><circle cx="192.7" cy="531.0" r="1.25"/><circle cx="258.8" cy="531.3" r="1.25"/><circle cx="149.6" cy="531.2" r="1.25"/><circle cx="272.6" cy="531.4" r="1.25"/><circle cx="155.5" cy="529.1" r="1.25"/><circle cx="156.2" cy="528.5" r="1.25"/><circle cx="262.9" cy="531.0" r="1.25"/><circle cx="232.0" cy="531.0" r="1.25"/><circle cx="231.6" cy="529.3" r="1.25"/><circle cx="154.5" cy="528.7" r="1.25"/><circle cx="249.8" cy="529.1" r="1.25"/><circle cx="186.3" cy="529.8" r="1.25"/><circle cx="143.0" cy="529.2" r="1.25"/><circle cx="181.0" cy="530.7" r="1.25"/><circle cx="193.4" cy="529.4" r="1.25"/><circle cx="279.8" cy="530.0" r="1.25"/><circle cx="263.4" cy="530.4" r="1.25"/><circle cx="144.5" cy="529.7" r="1.25"/><circle cx="203.3" cy="530.9" r="1.25"/><circle cx="190.3" cy="530.7" r="1.25"/><circle cx="218.0" cy="529.1" r="1.25"/><circle cx="265.0" cy="528.7" r="1.25"/><circle cx="258.9" cy="528.9" r="1.25"/><circle cx="140.2" cy="529.0" r="1.25"/><circle cx="250.5" cy="531.5" r="1.25"/><circle cx="140.6" cy="530.0" r="1.25"/><circle cx="211.3" cy="530.9" r="1.25"/><circle cx="166.8" cy="530.0" r="1.25"/><circle cx="190.3" cy="531.1" r="1.25"/><circle cx="177.8" cy="531.4" r="1.25"/><circle cx="181.1" cy="529.1" r="1.25"/><circle cx="241.4" cy="530.0" r="1.25"/><circle cx="155.9" cy="530.4" r="1.25"/><circle cx="151.7" cy="530.9" r="1.25"/><circle cx="241.1" cy="530.9" r="1.25"/><circle cx="231.1" cy="529.5" r="1.25"/><circle cx="198.2" cy="529.7" r="1.25"/><circle cx="269.1" cy="528.7" r="1.25"/><circle cx="268.8" cy="528.5" r="1.25"/><circle cx="169.9" cy="529.2" r="1.25"/><circle cx="270.7" cy="530.0" r="1.25"/><circle cx="195.0" cy="531.2" r="1.25"/><circle cx="173.9" cy="529.9" r="1.25"/><circle cx="217.1" cy="530.8" r="1.25"/><circle cx="249.2" cy="530.5" r="1.25"/><circle cx="190.5" cy="529.4" r="1.25"/><circle cx="162.5" cy="531.1" r="1.25"/><circle cx="236.0" cy="530.8" r="1.25"/><circle cx="164.6" cy="529.8" r="1.25"/><circle cx="252.1" cy="530.3" r="1.25"/><circle cx="158.3" cy="529.9" r="1.25"/><circle cx="268.3" cy="529.2" r="1.25"/><circle cx="167.8" cy="529.4" r="1.25"/><circle cx="242.0" cy="531.1" r="1.25"/><circle cx="162.4" cy="528.9" r="1.25"/><circle cx="175.9" cy="529.4" r="1.25"/><circle cx="215.7" cy="528.9" r="1.25"/><circle cx="187.6" cy="529.0" r="1.25"/><circle cx="281.4" cy="530.7" r="1.25"/><circle cx="154.8" cy="531.5" r="1.25"/><circle cx="154.7" cy="529.6" r="1.25"/><circle cx="282.7" cy="530.9" r="1.25"/><circle cx="246.3" cy="529.8" r="1.25"/><circle cx="168.4" cy="530.4" r="1.25"/><circle cx="155.5" cy="529.1" r="1.25"/><circle cx="196.3" cy="528.5" r="1.25"/><circle cx="197.9" cy="530.9" r="1.25"/><circle cx="240.5" cy="530.0" r="1.25"/><circle cx="231.7" cy="529.9" r="1.25"/><circle cx="160.6" cy="530.3" r="1.25"/><circle cx="198.7" cy="530.8" r="1.25"/><circle cx="271.7" cy="529.8" r="1.25"/><circle cx="223.2" cy="530.8" r="1.25"/><circle cx="201.1" cy="529.1" r="1.25"/><circle cx="244.7" cy="531.2" r="1.25"/><circle cx="252.2" cy="530.6" r="1.25"/><circle cx="263.6" cy="530.6" r="1.25"/><circle cx="233.0" cy="529.9" r="1.25"/><circle cx="185.4" cy="530.4" r="1.25"/><circle cx="154.2" cy="529.7" r="1.25"/><circle cx="253.4" cy="530.7" r="1.25"/><circle cx="231.3" cy="529.2" r="1.25"/><circle cx="201.4" cy="529.9" r="1.25"/><circle cx="230.1" cy="529.7" r="1.25"/><circle cx="237.9" cy="531.4" r="1.25"/><circle cx="166.5" cy="530.5" r="1.25"/><circle cx="252.8" cy="529.6" r="1.25"/><circle cx="211.0" cy="531.5" r="1.25"/><circle cx="145.5" cy="530.1" r="1.25"/><circle cx="163.3" cy="530.9" r="1.25"/><circle cx="276.4" cy="530.1" r="1.25"/><circle cx="154.7" cy="530.2" r="1.25"/><circle cx="218.5" cy="530.7" r="1.25"/><circle cx="214.3" cy="530.4" r="1.25"/><circle cx="260.2" cy="530.1" r="1.25"/><circle cx="199.5" cy="531.4" r="1.25"/><circle cx="170.5" cy="530.6" r="1.25"/><circle cx="196.9" cy="530.8" r="1.25"/><circle cx="157.7" cy="531.6" r="1.25"/><circle cx="191.5" cy="528.6" r="1.25"/><circle cx="179.8" cy="529.7" r="1.25"/><circle cx="141.9" cy="529.7" r="1.25"/><circle cx="201.0" cy="530.6" r="1.25"/><circle cx="191.1" cy="529.2" r="1.25"/><circle cx="172.5" cy="530.8" r="1.25"/><circle cx="276.3" cy="530.1" r="1.25"/><circle cx="171.7" cy="531.0" r="1.25"/><circle cx="196.8" cy="529.1" r="1.25"/><circle cx="158.7" cy="530.9" r="1.25"/><circle cx="257.4" cy="530.4" r="1.25"/><circle cx="208.0" cy="530.2" r="1.25"/><circle cx="172.8" cy="531.5" r="1.25"/><circle cx="191.2" cy="530.4" r="1.25"/><circle cx="258.7" cy="531.0" r="1.25"/><circle cx="207.9" cy="529.3" r="1.25"/><circle cx="219.5" cy="528.8" r="1.25"/><circle cx="260.9" cy="529.5" r="1.25"/><circle cx="263.3" cy="529.3" r="1.25"/><circle cx="194.5" cy="529.2" r="1.25"/><circle cx="201.8" cy="529.0" r="1.25"/><circle cx="140.4" cy="530.7" r="1.25"/><circle cx="180.8" cy="529.2" r="1.25"/><circle cx="183.8" cy="529.9" r="1.25"/><circle cx="202.1" cy="530.4" r="1.25"/><circle cx="235.6" cy="529.6" r="1.25"/><circle cx="274.7" cy="531.1" r="1.25"/><circle cx="148.3" cy="531.0" r="1.25"/><circle cx="271.3" cy="530.9" r="1.25"/><circle cx="160.4" cy="531.1" r="1.25"/><circle cx="231.8" cy="528.4" r="1.25"/><circle cx="141.7" cy="531.4" r="1.25"/><circle cx="235.1" cy="529.2" r="1.25"/><circle cx="154.7" cy="528.9" r="1.25"/><circle cx="173.9" cy="530.9" r="1.25"/><circle cx="190.2" cy="528.9" r="1.25"/><circle cx="271.1" cy="530.9" r="1.25"/><circle cx="164.3" cy="531.3" r="1.25"/><circle cx="228.2" cy="530.9" r="1.25"/><circle cx="236.9" cy="531.3" r="1.25"/><circle cx="254.3" cy="531.1" r="1.25"/><circle cx="168.6" cy="530.6" r="1.25"/><circle cx="217.0" cy="530.8" r="1.25"/><circle cx="203.6" cy="531.2" r="1.25"/><circle cx="220.5" cy="529.2" r="1.25"/><circle cx="174.0" cy="528.8" r="1.25"/><circle cx="211.5" cy="528.6" r="1.25"/><circle cx="207.7" cy="528.9" r="1.25"/><circle cx="211.2" cy="530.0" r="1.25"/><circle cx="218.2" cy="531.2" r="1.25"/><circle cx="141.0" cy="531.1" r="1.25"/><circle cx="207.9" cy="530.2" r="1.25"/><circle cx="236.5" cy="531.1" r="1.25"/><circle cx="194.4" cy="529.7" r="1.25"/><circle cx="279.3" cy="528.6" r="1.25"/><circle cx="232.4" cy="530.4" r="1.25"/><circle cx="144.1" cy="530.4" r="1.25"/><circle cx="239.0" cy="531.4" r="1.25"/><circle cx="187.9" cy="531.5" r="1.25"/><circle cx="214.0" cy="530.0" r="1.25"/><circle cx="270.1" cy="528.5" r="1.25"/><circle cx="244.1" cy="530.4" r="1.25"/><circle cx="189.1" cy="531.2" r="1.25"/><circle cx="193.1" cy="529.9" r="1.25"/><circle cx="216.2" cy="530.9" r="1.25"/><circle cx="170.6" cy="529.8" r="1.25"/><circle cx="201.2" cy="530.2" r="1.25"/><circle cx="259.9" cy="529.3" r="1.25"/><circle cx="260.0" cy="529.7" r="1.25"/><circle cx="213.0" cy="529.3" r="1.25"/><circle cx="213.4" cy="531.5" r="1.25"/><circle cx="234.9" cy="530.9" r="1.25"/><circle cx="188.0" cy="529.4" r="1.25"/><circle cx="183.4" cy="530.3" r="1.25"/><circle cx="232.0" cy="530.9" r="1.25"/><circle cx="145.8" cy="530.7" r="1.25"/><circle cx="268.4" cy="530.1" r="1.25"/><circle cx="147.2" cy="529.4" r="1.25"/><circle cx="140.9" cy="529.0" r="1.25"/><circle cx="273.6" cy="530.3" r="1.25"/><circle cx="235.4" cy="530.9" r="1.25"/><circle cx="271.9" cy="530.4" r="1.25"/><circle cx="229.4" cy="530.4" r="1.25"/><circle cx="241.0" cy="530.3" r="1.25"/><circle cx="238.7" cy="529.1" r="1.25"/><circle cx="236.7" cy="529.9" r="1.25"/><circle cx="250.6" cy="528.7" r="1.25"/><circle cx="166.3" cy="528.5" r="1.25"/><circle cx="252.3" cy="531.3" r="1.25"/><circle cx="235.1" cy="529.6" r="1.25"/><circle cx="259.3" cy="530.9" r="1.25"/><circle cx="221.5" cy="529.2" r="1.25"/><circle cx="183.8" cy="529.7" r="1.25"/><circle cx="186.2" cy="529.8" r="1.25"/><circle cx="233.1" cy="531.4" r="1.25"/><circle cx="147.9" cy="530.2" r="1.25"/><circle cx="145.7" cy="528.8" r="1.25"/><circle cx="257.5" cy="530.2" r="1.25"/><circle cx="273.2" cy="529.8" r="1.25"/><circle cx="142.0" cy="529.6" r="1.25"/><circle cx="225.8" cy="531.4" r="1.25"/><circle cx="282.2" cy="529.9" r="1.25"/><circle cx="199.8" cy="528.7" r="1.25"/><circle cx="233.5" cy="529.1" r="1.25"/><circle cx="162.0" cy="528.4" r="1.25"/><circle cx="140.7" cy="530.6" r="1.25"/><circle cx="157.6" cy="531.5" r="1.25"/><circle cx="152.8" cy="531.2" r="1.25"/><circle cx="158.7" cy="528.5" r="1.25"/><circle cx="244.3" cy="529.2" r="1.25"/><circle cx="246.4" cy="529.0" r="1.25"/><circle cx="147.3" cy="530.9" r="1.25"/><circle cx="243.5" cy="531.1" r="1.25"/><circle cx="245.8" cy="528.7" r="1.25"/><circle cx="231.2" cy="530.7" r="1.25"/><circle cx="206.8" cy="531.4" r="1.25"/><circle cx="176.8" cy="531.5" r="1.25"/><circle cx="244.0" cy="528.4" r="1.25"/><circle cx="142.1" cy="530.5" r="1.25"/><circle cx="258.5" cy="528.7" r="1.25"/><circle cx="185.1" cy="530.7" r="1.25"/><circle cx="164.1" cy="531.2" r="1.25"/><circle cx="210.5" cy="528.6" r="1.25"/><circle cx="193.3" cy="530.2" r="1.25"/><circle cx="203.6" cy="530.6" r="1.25"/><circle cx="161.0" cy="531.0" r="1.25"/><circle cx="192.7" cy="530.5" r="1.25"/><circle cx="231.3" cy="529.7" r="1.25"/><circle cx="195.9" cy="530.9" r="1.25"/><circle cx="277.0" cy="530.9" r="1.25"/><circle cx="222.2" cy="529.3" r="1.25"/><circle cx="148.8" cy="531.5" r="1.25"/><circle cx="242.0" cy="531.0" r="1.25"/><circle cx="188.1" cy="530.3" r="1.25"/><circle cx="281.7" cy="531.1" r="1.25"/><circle cx="227.2" cy="529.4" r="1.25"/><circle cx="202.1" cy="531.2" r="1.25"/><circle cx="194.6" cy="530.6" r="1.25"/><circle cx="227.3" cy="531.3" r="1.25"/><circle cx="257.1" cy="529.3" r="1.25"/><circle cx="140.2" cy="529.2" r="1.25"/><circle cx="201.3" cy="530.3" r="1.25"/><circle cx="258.3" cy="531.2" r="1.25"/><circle cx="146.1" cy="531.1" r="1.25"/><circle cx="257.7" cy="531.2" r="1.25"/><circle cx="222.9" cy="529.3" r="1.25"/><circle cx="263.4" cy="531.0" r="1.25"/><circle cx="239.3" cy="531.3" r="1.25"/><circle cx="190.3" cy="528.7" r="1.25"/><circle cx="220.3" cy="531.0" r="1.25"/><circle cx="169.1" cy="530.8" r="1.25"/><circle cx="275.1" cy="529.1" r="1.25"/><circle cx="228.0" cy="530.6" r="1.25"/><circle cx="207.5" cy="529.1" r="1.25"/><circle cx="176.9" cy="530.8" r="1.25"/><circle cx="254.8" cy="529.9" r="1.25"/><circle cx="152.7" cy="531.0" r="1.25"/><circle cx="252.0" cy="529.1" r="1.25"/><circle cx="224.0" cy="531.3" r="1.25"/><circle cx="268.3" cy="530.1" r="1.25"/><circle cx="209.1" cy="530.3" r="1.25"/><circle cx="167.4" cy="529.0" r="1.25"/><circle cx="166.2" cy="530.6" r="1.25"/><circle cx="192.6" cy="530.2" r="1.25"/><circle cx="198.4" cy="530.1" r="1.25"/><circle cx="161.6" cy="528.5" r="1.25"/><circle cx="284.6" cy="529.6" r="1.25"/><circle cx="155.4" cy="530.4" r="1.25"/><circle cx="254.2" cy="528.9" r="1.25"/><circle cx="226.6" cy="529.5" r="1.25"/><circle cx="215.3" cy="528.5" r="1.25"/><circle cx="144.9" cy="531.6" r="1.25"/><circle cx="265.6" cy="530.0" r="1.25"/><circle cx="222.2" cy="529.2" r="1.25"/><circle cx="253.0" cy="529.8" r="1.25"/><circle cx="277.2" cy="530.9" r="1.25"/><circle cx="258.7" cy="531.5" r="1.25"/><circle cx="176.8" cy="528.5" r="1.25"/><circle cx="169.1" cy="529.0" r="1.25"/><circle cx="152.1" cy="528.6" r="1.25"/><circle cx="220.8" cy="531.2" r="1.25"/><circle cx="206.5" cy="531.4" r="1.25"/><circle cx="271.9" cy="528.6" r="1.25"/><circle cx="226.7" cy="529.7" r="1.25"/><circle cx="157.4" cy="531.5" r="1.25"/><circle cx="177.3" cy="530.2" r="1.25"/><circle cx="232.9" cy="531.5" r="1.25"/><circle cx="237.1" cy="529.7" r="1.25"/><circle cx="205.0" cy="528.9" r="1.25"/><circle cx="280.0" cy="531.6" r="1.25"/><circle cx="172.1" cy="528.5" r="1.25"/><circle cx="177.1" cy="529.5" r="1.25"/><circle cx="270.9" cy="531.3" r="1.25"/><circle cx="261.4" cy="528.6" r="1.25"/><circle cx="254.0" cy="530.7" r="1.25"/><circle cx="233.8" cy="531.6" r="1.25"/><circle cx="148.1" cy="528.9" r="1.25"/><circle cx="249.5" cy="531.4" r="1.25"/><circle cx="238.1" cy="519.4" r="1.25"/><circle cx="225.8" cy="523.1" r="1.25"/><circle cx="155.3" cy="519.6" r="1.25"/><circle cx="177.3" cy="518.0" r="1.25"/><circle cx="209.8" cy="518.3" r="1.25"/><circle cx="174.6" cy="518.1" r="1.25"/><circle cx="238.3" cy="517.1" r="1.25"/><circle cx="244.0" cy="518.6" r="1.25"/><circle cx="145.2" cy="524.4" r="1.25"/><circle cx="172.0" cy="524.5" r="1.25"/><circle cx="265.7" cy="524.1" r="1.25"/><circle cx="160.3" cy="520.6" r="1.25"/><circle cx="154.1" cy="524.4" r="1.25"/><circle cx="262.1" cy="522.0" r="1.25"/><circle cx="205.6" cy="519.7" r="1.25"/><circle cx="259.3" cy="520.8" r="1.25"/><circle cx="231.1" cy="518.1" r="1.25"/><circle cx="172.1" cy="517.5" r="1.25"/><circle cx="243.5" cy="521.4" r="1.25"/><circle cx="161.0" cy="524.0" r="1.25"/><circle cx="178.6" cy="520.3" r="1.25"/><circle cx="162.6" cy="519.2" r="1.25"/><circle cx="261.7" cy="519.7" r="1.25"/><circle cx="164.3" cy="520.9" r="1.25"/><circle cx="186.1" cy="524.2" r="1.25"/><circle cx="156.6" cy="524.8" r="1.25"/><circle cx="148.2" cy="524.2" r="1.25"/><circle cx="236.9" cy="518.7" r="1.25"/><circle cx="209.2" cy="519.3" r="1.25"/><circle cx="177.4" cy="518.6" r="1.25"/><circle cx="192.8" cy="524.9" r="1.25"/><circle cx="284.7" cy="524.4" r="1.25"/><circle cx="154.1" cy="519.3" r="1.25"/><circle cx="269.9" cy="517.5" r="1.25"/><circle cx="245.3" cy="519.3" r="1.25"/><circle cx="281.9" cy="517.1" r="1.25"/><circle cx="295.9" cy="520.6" r="1.25"/><circle cx="285.2" cy="519.2" r="1.25"/><circle cx="296.3" cy="521.3" r="1.25"/><circle cx="286.0" cy="520.9" r="1.25"/><circle cx="297.6" cy="520.1" r="1.25"/><circle cx="292.1" cy="519.8" r="1.25"/><circle cx="285.9" cy="522.3" r="1.25"/><circle cx="294.4" cy="520.0" r="1.25"/><circle cx="284.3" cy="519.5" r="1.25"/><circle cx="292.7" cy="521.2" r="1.25"/><circle cx="287.4" cy="520.0" r="1.25"/><circle cx="292.8" cy="522.0" r="1.25"/><circle cx="296.0" cy="521.5" r="1.25"/><circle cx="286.2" cy="519.5" r="1.25"/><circle cx="294.7" cy="520.8" r="1.25"/><circle cx="294.5" cy="519.4" r="1.25"/><circle cx="296.0" cy="520.5" r="1.25"/><circle cx="296.5" cy="522.7" r="1.25"/><circle cx="290.9" cy="519.3" r="1.25"/><circle cx="297.6" cy="521.1" r="1.25"/><circle cx="297.0" cy="520.3" r="1.25"/><circle cx="286.0" cy="522.5" r="1.25"/><circle cx="288.9" cy="519.9" r="1.25"/><circle cx="288.9" cy="521.6" r="1.25"/><circle cx="283.1" cy="521.3" r="1.25"/><circle cx="290.1" cy="521.3" r="1.25"/><circle cx="284.9" cy="522.1" r="1.25"/><circle cx="296.1" cy="522.7" r="1.25"/><circle cx="288.1" cy="522.0" r="1.25"/><circle cx="289.1" cy="522.2" r="1.25"/><circle cx="284.0" cy="522.7" r="1.25"/><circle cx="298.3" cy="521.2" r="1.25"/><circle cx="291.2" cy="521.3" r="1.25"/><circle cx="291.6" cy="519.3" r="1.25"/><circle cx="298.5" cy="520.1" r="1.25"/><circle cx="285.9" cy="519.6" r="1.25"/><circle cx="287.0" cy="522.5" r="1.25"/><circle cx="283.5" cy="519.6" r="1.25"/><circle cx="294.2" cy="520.0" r="1.25"/><circle cx="283.3" cy="521.6" r="1.25"/><circle cx="292.2" cy="521.3" r="1.25"/><circle cx="294.2" cy="519.6" r="1.25"/><circle cx="296.9" cy="522.1" r="1.25"/><circle cx="283.7" cy="519.7" r="1.25"/><circle cx="290.9" cy="521.2" r="1.25"/><circle cx="287.5" cy="519.7" r="1.25"/><circle cx="289.5" cy="519.7" r="1.25"/><circle cx="292.5" cy="522.6" r="1.25"/><circle cx="285.4" cy="521.5" r="1.25"/><circle cx="294.9" cy="519.9" r="1.25"/><circle cx="296.2" cy="523.0" r="1.25"/><circle cx="289.2" cy="520.9" r="1.25"/><circle cx="296.4" cy="521.3" r="1.25"/><circle cx="289.3" cy="523.0" r="1.25"/><circle cx="295.4" cy="520.6" r="1.25"/><circle cx="286.8" cy="520.5" r="1.25"/><circle cx="290.0" cy="523.1" r="1.25"/><circle cx="295.9" cy="522.9" r="1.25"/><circle cx="296.0" cy="522.6" r="1.25"/><circle cx="283.9" cy="521.3" r="1.25"/><circle cx="298.3" cy="522.9" r="1.25"/><circle cx="287.0" cy="520.9" r="1.25"/><circle cx="293.1" cy="520.7" r="1.25"/><circle cx="291.5" cy="519.5" r="1.25"/><circle cx="72.7" cy="455.9" r="1.25"/><circle cx="37.3" cy="464.0" r="1.25"/><circle cx="32.2" cy="481.2" r="1.25"/><circle cx="36.9" cy="484.6" r="1.25"/><circle cx="32.7" cy="489.2" r="1.25"/><circle cx="47.7" cy="485.8" r="1.25"/><circle cx="46.9" cy="491.3" r="1.25"/><circle cx="37.8" cy="495.4" r="1.25"/><circle cx="45.0" cy="499.5" r="1.25"/><circle cx="49.2" cy="500.5" r="1.25"/><circle cx="52.8" cy="499.8" r="1.25"/><circle cx="57.5" cy="496.7" r="1.25"/><circle cx="43.3" cy="506.0" r="1.25"/><circle cx="50.3" cy="506.9" r="1.25"/><circle cx="54.1" cy="505.4" r="1.25"/><circle cx="60.0" cy="508.0" r="1.25"/><circle cx="38.7" cy="511.9" r="1.25"/><circle cx="53.8" cy="512.4" r="1.25"/><circle cx="53.5" cy="516.2" r="1.25"/><circle cx="60.8" cy="516.4" r="1.25"/><circle cx="65.7" cy="489.4" r="1.25"/><circle cx="66.7" cy="488.7" r="1.25"/><circle cx="70.1" cy="491.8" r="1.25"/><circle cx="72.9" cy="487.4" r="1.25"/><circle cx="74.0" cy="485.8" r="1.25"/><circle cx="75.7" cy="485.0" r="1.25"/><circle cx="73.2" cy="489.0" r="1.25"/><circle cx="77.0" cy="489.0" r="1.25"/><circle cx="79.8" cy="483.3" r="1.25"/><circle cx="83.0" cy="483.3" r="1.25"/><circle cx="84.7" cy="482.2" r="1.25"/><circle cx="90.4" cy="482.8" r="1.25"/><circle cx="93.7" cy="484.5" r="1.25"/><circle cx="78.1" cy="492.0" r="1.25"/><circle cx="81.4" cy="492.0" r="1.25"/><circle cx="74.9" cy="498.4" r="1.25"/><circle cx="79.4" cy="497.2" r="1.25"/><circle cx="82.2" cy="495.6" r="1.25"/><circle cx="85.5" cy="494.8" r="1.25"/><circle cx="87.1" cy="489.0" r="1.25"/><circle cx="88.8" cy="488.2" r="1.25"/><circle cx="77.3" cy="502.1" r="1.25"/><circle cx="82.2" cy="500.8" r="1.25"/><circle cx="87.1" cy="502.5" r="1.25"/><circle cx="88.0" cy="504.6" r="1.25"/><circle cx="83.9" cy="505.4" r="1.25"/><circle cx="72.1" cy="507.5" r="1.25"/><circle cx="71.1" cy="514.9" r="1.25"/><circle cx="80.6" cy="511.1" r="1.25"/><circle cx="83.5" cy="514.4" r="1.25"/><circle cx="86.3" cy="516.4" r="1.25"/><circle cx="90.1" cy="508.7" r="1.25"/><circle cx="91.2" cy="511.9" r="1.25"/><circle cx="92.0" cy="514.4" r="1.25"/><circle cx="93.7" cy="500.5" r="1.25"/><circle cx="89.6" cy="517.7" r="1.25"/><circle cx="69.1" cy="520.1" r="1.25"/><circle cx="63.6" cy="521.3" r="1.25"/><circle cx="72.4" cy="518.5" r="1.25"/><circle cx="118.4" cy="449.0" r="1.25"/><circle cx="118.2" cy="461.7" r="1.25"/><circle cx="115.4" cy="469.9" r="1.25"/><circle cx="126.1" cy="471.4" r="1.25"/><circle cx="111.7" cy="476.3" r="1.25"/><circle cx="114.6" cy="479.7" r="1.25"/><circle cx="116.7" cy="482.8" r="1.25"/><circle cx="132.6" cy="481.9" r="1.25"/><circle cx="144.1" cy="479.2" r="1.25"/><circle cx="138.3" cy="489.4" r="1.25"/><circle cx="100.7" cy="488.7" r="1.25"/><circle cx="103.2" cy="488.7" r="1.25"/><circle cx="105.6" cy="488.7" r="1.25"/><circle cx="108.1" cy="488.7" r="1.25"/><circle cx="110.5" cy="488.7" r="1.25"/><circle cx="112.7" cy="488.7" r="1.25"/><circle cx="121.2" cy="488.7" r="1.25"/><circle cx="123.6" cy="488.7" r="1.25"/><circle cx="101.5" cy="492.3" r="1.25"/><circle cx="108.1" cy="492.3" r="1.25"/><circle cx="113.0" cy="492.6" r="1.25"/><circle cx="119.5" cy="492.0" r="1.25"/><circle cx="101.5" cy="495.9" r="1.25"/><circle cx="110.5" cy="496.4" r="1.25"/><circle cx="127.7" cy="495.3" r="1.25"/><circle cx="131.8" cy="498.5" r="1.25"/><circle cx="104.8" cy="498.9" r="1.25"/><circle cx="106.4" cy="500.8" r="1.25"/><circle cx="101.5" cy="504.1" r="1.25"/><circle cx="103.2" cy="503.4" r="1.25"/><circle cx="109.4" cy="504.1" r="1.25"/><circle cx="113.0" cy="504.3" r="1.25"/><circle cx="124.4" cy="503.4" r="1.25"/><circle cx="126.4" cy="502.9" r="1.25"/><circle cx="121.2" cy="506.2" r="1.25"/><circle cx="123.1" cy="506.2" r="1.25"/><circle cx="134.2" cy="507.0" r="1.25"/><circle cx="111.4" cy="510.6" r="1.25"/><circle cx="102.4" cy="513.9" r="1.25"/><circle cx="106.1" cy="512.0" r="1.25"/><circle cx="111.0" cy="516.0" r="1.25"/><circle cx="117.1" cy="515.5" r="1.25"/><circle cx="120.3" cy="516.2" r="1.25"/><circle cx="144.1" cy="519.3" r="1.25"/><circle cx="161.2" cy="503.0" r="1.25"/><circle cx="161.2" cy="515.5" r="1.25"/><circle cx="163.7" cy="498.9" r="1.25"/><circle cx="163.7" cy="489.9" r="1.25"/><circle cx="161.7" cy="523.4" r="1.25"/><circle cx="167.8" cy="460.4" r="1.25"/><circle cx="194.1" cy="457.2" r="1.25"/><circle cx="170.2" cy="482.5" r="1.25"/><circle cx="183.0" cy="479.2" r="1.25"/><circle cx="192.5" cy="480.4" r="1.25"/><circle cx="169.9" cy="488.7" r="1.25"/><circle cx="175.6" cy="489.1" r="1.25"/><circle cx="182.2" cy="488.4" r="1.25"/><circle cx="184.3" cy="489.1" r="1.25"/><circle cx="185.9" cy="488.4" r="1.25"/><circle cx="185.4" cy="491.5" r="1.25"/><circle cx="195.2" cy="488.7" r="1.25"/><circle cx="194.1" cy="491.0" r="1.25"/><circle cx="181.4" cy="496.4" r="1.25"/><circle cx="186.3" cy="495.6" r="1.25"/><circle cx="166.6" cy="501.8" r="1.25"/><circle cx="168.3" cy="502.9" r="1.25"/><circle cx="168.6" cy="504.6" r="1.25"/><circle cx="173.2" cy="502.1" r="1.25"/><circle cx="174.8" cy="501.3" r="1.25"/><circle cx="178.9" cy="504.6" r="1.25"/><circle cx="192.0" cy="501.6" r="1.25"/><circle cx="197.4" cy="513.1" r="1.25"/><circle cx="179.4" cy="516.8" r="1.25"/><circle cx="167.5" cy="520.4" r="1.25"/><circle cx="173.5" cy="519.8" r="1.25"/><circle cx="208.3" cy="498.4" r="1.25"/><circle cx="213.6" cy="499.2" r="1.25"/><circle cx="210.5" cy="503.4" r="1.25"/><circle cx="212.7" cy="502.1" r="1.25"/><circle cx="217.6" cy="489.1" r="1.25"/><circle cx="216.3" cy="494.4" r="1.25"/><circle cx="226.8" cy="488.7" r="1.25"/><circle cx="227.5" cy="498.2" r="1.25"/><circle cx="222.2" cy="502.5" r="1.25"/><circle cx="225.2" cy="502.1" r="1.25"/><circle cx="225.8" cy="504.1" r="1.25"/><circle cx="215.4" cy="507.0" r="1.25"/><circle cx="208.3" cy="508.3" r="1.25"/><circle cx="212.4" cy="511.1" r="1.25"/><circle cx="224.7" cy="509.5" r="1.25"/><circle cx="222.2" cy="511.9" r="1.25"/><circle cx="219.3" cy="514.4" r="1.25"/><circle cx="213.6" cy="516.8" r="1.25"/><circle cx="211.6" cy="519.3" r="1.25"/><circle cx="218.1" cy="519.8" r="1.25"/><circle cx="214.1" cy="521.8" r="1.25"/><circle cx="204.2" cy="520.1" r="1.25"/><circle cx="205.9" cy="521.8" r="1.25"/><circle cx="196.9" cy="521.8" r="1.25"/><circle cx="197.7" cy="523.4" r="1.25"/><circle cx="203.4" cy="523.4" r="1.25"/><circle cx="207.5" cy="524.2" r="1.25"/><circle cx="210.0" cy="525.0" r="1.25"/><circle cx="217.3" cy="524.2" r="1.25"/><circle cx="231.2" cy="525.3" r="1.25"/><circle cx="234.5" cy="503.8" r="1.25"/><circle cx="237.5" cy="441.3" r="1.25"/><circle cx="268.8" cy="447.7" r="1.25"/><circle cx="266.9" cy="462.1" r="1.25"/><circle cx="249.4" cy="470.7" r="1.25"/><circle cx="281.3" cy="468.1" r="1.25"/><circle cx="283.7" cy="471.9" r="1.25"/><circle cx="281.3" cy="475.2" r="1.25"/><circle cx="291.4" cy="484.5" r="1.25"/><circle cx="286.2" cy="487.4" r="1.25"/><circle cx="247.3" cy="485.5" r="1.25"/><circle cx="249.7" cy="487.9" r="1.25"/><circle cx="250.9" cy="488.6" r="1.25"/><circle cx="246.1" cy="491.0" r="1.25"/><circle cx="261.2" cy="486.6" r="1.25"/><circle cx="258.7" cy="489.1" r="1.25"/><circle cx="262.0" cy="488.2" r="1.25"/><circle cx="256.3" cy="493.6" r="1.25"/><circle cx="264.9" cy="494.3" r="1.25"/><circle cx="268.5" cy="491.5" r="1.25"/><circle cx="240.7" cy="496.4" r="1.25"/><circle cx="245.6" cy="496.4" r="1.25"/><circle cx="247.3" cy="498.0" r="1.25"/><circle cx="235.8" cy="503.0" r="1.25"/><circle cx="242.4" cy="503.0" r="1.25"/><circle cx="253.0" cy="501.3" r="1.25"/><circle cx="254.3" cy="500.2" r="1.25"/><circle cx="263.6" cy="500.2" r="1.25"/><circle cx="264.8" cy="501.8" r="1.25"/><circle cx="257.9" cy="503.8" r="1.25"/><circle cx="261.2" cy="504.1" r="1.25"/><circle cx="262.8" cy="504.6" r="1.25"/><circle cx="271.3" cy="501.3" r="1.25"/><circle cx="274.2" cy="504.6" r="1.25"/><circle cx="280.8" cy="498.9" r="1.25"/><circle cx="282.4" cy="498.0" r="1.25"/><circle cx="285.7" cy="499.2" r="1.25"/><circle cx="280.5" cy="500.8" r="1.25"/><circle cx="257.9" cy="507.4" r="1.25"/><circle cx="260.8" cy="507.0" r="1.25"/><circle cx="263.1" cy="507.0" r="1.25"/><circle cx="265.7" cy="506.2" r="1.25"/><circle cx="268.5" cy="507.4" r="1.25"/><circle cx="253.3" cy="508.3" r="1.25"/><circle cx="275.9" cy="508.7" r="1.25"/><circle cx="278.3" cy="507.0" r="1.25"/><circle cx="278.8" cy="510.6" r="1.25"/><circle cx="284.0" cy="506.7" r="1.25"/><circle cx="284.9" cy="506.7" r="1.25"/><circle cx="283.2" cy="511.1" r="1.25"/><circle cx="236.6" cy="508.7" r="1.25"/><circle cx="238.3" cy="512.0" r="1.25"/><circle cx="242.4" cy="508.7" r="1.25"/><circle cx="241.5" cy="510.6" r="1.25"/><circle cx="259.5" cy="511.6" r="1.25"/><circle cx="250.0" cy="513.9" r="1.25"/><circle cx="260.3" cy="515.5" r="1.25"/><circle cx="268.0" cy="516.0" r="1.25"/><circle cx="277.2" cy="514.9" r="1.25"/><circle cx="238.3" cy="521.8" r="1.25"/><circle cx="246.0" cy="522.6" r="1.25"/><circle cx="250.5" cy="520.9" r="1.25"/><circle cx="253.0" cy="520.1" r="1.25"/><circle cx="255.4" cy="520.4" r="1.25"/><circle cx="257.9" cy="520.9" r="1.25"/><circle cx="259.5" cy="522.6" r="1.25"/><circle cx="257.1" cy="523.4" r="1.25"/><circle cx="259.2" cy="525.0" r="1.25"/><circle cx="263.6" cy="521.8" r="1.25"/><circle cx="266.1" cy="523.1" r="1.25"/><circle cx="268.5" cy="520.9" r="1.25"/><circle cx="271.0" cy="521.8" r="1.25"/><circle cx="271.8" cy="524.2" r="1.25"/><circle cx="273.4" cy="522.6" r="1.25"/><circle cx="276.7" cy="521.8" r="1.25"/><circle cx="282.4" cy="520.1" r="1.25"/><circle cx="284.0" cy="521.8" r="1.25"/><circle cx="287.3" cy="526.7" r="1.25"/><circle cx="290.6" cy="525.8" r="1.25"/><circle cx="295.5" cy="528.3" r="1.25"/><circle cx="255.4" cy="321.5" r="1.25"/><circle cx="216.7" cy="337.5" r="1.25"/><circle cx="121.9" cy="382.5" r="1.25"/><circle cx="201.2" cy="412.0" r="1.25"/><circle cx="256.4" cy="418.5" r="1.25"/><circle cx="177.5" cy="436.1" r="1.25"/></g>
<ellipse cx="27.4" cy="525" rx="1.6" ry="2.8" fill="#1a7ac8"/>
<rect x="376.5" y="313.5" width="302.0" height="238.0" fill="none" stroke="#4a4a4a" stroke-width="1"/>
<line x1="436.5" y1="551.5" x2="436.5" y2="548.5" stroke="#4a4a4a" stroke-width="1"/>
<line x1="436.5" y1="313.5" x2="436.5" y2="316.5" stroke="#4a4a4a" stroke-width="1"/>
<line x1="497.5" y1="551.5" x2="497.5" y2="548.5" stroke="#4a4a4a" stroke-width="1"/>
<line x1="497.5" y1="313.5" x2="497.5" y2="316.5" stroke="#4a4a4a" stroke-width="1"/>
<line x1="557.5" y1="551.5" x2="557.5" y2="548.5" stroke="#4a4a4a" stroke-width="1"/>
<line x1="557.5" y1="313.5" x2="557.5" y2="316.5" stroke="#4a4a4a" stroke-width="1"/>
<line x1="618.5" y1="551.5" x2="618.5" y2="548.5" stroke="#4a4a4a" stroke-width="1"/>
<line x1="618.5" y1="313.5" x2="618.5" y2="316.5" stroke="#4a4a4a" stroke-width="1"/>
<line x1="376.5" y1="517.5" x2="379.5" y2="517.5" stroke="#4a4a4a" stroke-width="1"/>
<line x1="678.5" y1="517.5" x2="675.5" y2="517.5" stroke="#4a4a4a" stroke-width="1"/>
<line x1="376.5" y1="483.5" x2="379.5" y2="483.5" stroke="#4a4a4a" stroke-width="1"/>
<line x1="678.5" y1="483.5" x2="675.5" y2="483.5" stroke="#4a4a4a" stroke-width="1"/>
<line x1="376.5" y1="449.5" x2="379.5" y2="449.5" stroke="#4a4a4a" stroke-width="1"/>
<line x1="678.5" y1="449.5" x2="675.5" y2="449.5" stroke="#4a4a4a" stroke-width="1"/>
<line x1="376.5" y1="415.5" x2="379.5" y2="415.5" stroke="#4a4a4a" stroke-width="1"/>
<line x1="678.5" y1="415.5" x2="675.5" y2="415.5" stroke="#4a4a4a" stroke-width="1"/>
<line x1="376.5" y1="381.5" x2="379.5" y2="381.5" stroke="#4a4a4a" stroke-width="1"/>
<line x1="678.5" y1="381.5" x2="675.5" y2="381.5" stroke="#4a4a4a" stroke-width="1"/>
<line x1="376.5" y1="347.5" x2="379.5" y2="347.5" stroke="#4a4a4a" stroke-width="1"/>
<line x1="678.5" y1="347.5" x2="675.5" y2="347.5" stroke="#4a4a4a" stroke-width="1"/>
<text x="357.64" y="320.15" font-size="13.0" textLength="15.75" lengthAdjust="spacingAndGlyphs" fill="#333">1.8</text>
<text x="359.51" y="352.35" font-size="13.0" textLength="16.20" lengthAdjust="spacingAndGlyphs" fill="#333">1.6</text>
<text x="359.57" y="384.45" font-size="13.0" textLength="15.25" lengthAdjust="spacingAndGlyphs" fill="#333">1.4</text>
<text x="357.58" y="419.15" font-size="13.0" textLength="16.83" lengthAdjust="spacingAndGlyphs" fill="#333">1.2</text>
<text x="358.05" y="454.35" font-size="13.0" textLength="17.34" lengthAdjust="spacingAndGlyphs" fill="#333">1.0</text>
<text x="358.76" y="483.55" font-size="13.0" textLength="15.73" lengthAdjust="spacingAndGlyphs" fill="#333">0.8</text>
<text x="359.96" y="520.35" font-size="13.0" textLength="15.53" lengthAdjust="spacingAndGlyphs" fill="#333">0.6</text>
<text x="359.47" y="550.55" font-size="13.0" textLength="15.35" lengthAdjust="spacingAndGlyphs" fill="#333">0.4</text>
<text x="374.29" y="561.60" font-size="13.0" textLength="7.23" lengthAdjust="spacingAndGlyphs" fill="#333">0</text>
<text x="434.52" y="561.60" font-size="13.0" textLength="7.23" lengthAdjust="spacingAndGlyphs" fill="#333">5</text>
<text x="491.38" y="561.60" font-size="13.0" textLength="14.46" lengthAdjust="spacingAndGlyphs" fill="#333">10</text>
<text x="552.23" y="561.60" font-size="13.0" textLength="14.46" lengthAdjust="spacingAndGlyphs" fill="#333">15</text>
<text x="611.20" y="561.60" font-size="13.0" textLength="14.46" lengthAdjust="spacingAndGlyphs" fill="#333">20</text>
<text x="669.95" y="561.60" font-size="13.0" textLength="14.46" lengthAdjust="spacingAndGlyphs" fill="#333">25</text>
<text x="343.18" y="332.20" font-size="13.9" textLength="14.44" lengthAdjust="spacingAndGlyphs" fill="#222">(c)</text>
<text x="435.09" y="576.80" font-size="13.3" textLength="188.72" lengthAdjust="spacingAndGlyphs" fill="#222">Radius of circular measurements</text>
<text transform="translate(354.70,530.85) rotate(-90)" x="-0.66" y="0" font-size="12.8" textLength="170.77" lengthAdjust="spacingAndGlyphs" fill="#222">Correlation Diemensions (D2)</text>
<polyline points="388.60,537.30 389.10,536.63 389.60,535.95 390.10,535.28 390.60,534.60 391.10,533.93 391.60,533.25 392.10,532.58 392.60,531.90 393.10,531.30 393.60,530.80 394.10,530.30 394.60,529.80 395.10,529.30 395.60,528.80 396.10,528.30 396.60,527.80 397.10,527.30 397.60,526.80 398.10,526.31 398.60,525.85 399.10,525.38 399.60,524.92 400.10,524.45 400.60,523.99 401.10,523.52 401.60,523.06 402.10,522.59 402.60,522.12 403.10,521.66 403.60,521.19 404.10,520.76 404.60,520.33 405.10,519.90 405.60,519.47 406.10,519.04 406.60,518.61 407.10,518.18 407.60,517.75 408.10,517.32 408.60,516.89 409.10,516.46 409.60,516.00 410.10,515.50 410.60,515.00 411.10,514.50 411.60,514.00 412.10,513.50 412.60,513.00 413.10,512.50 413.60,512.00 414.10,511.50 414.60,511.00 415.10,510.50 415.60,510.05 416.10,509.61 416.60,509.17 417.10,508.73 417.60,508.29 418.10,507.85 418.60,507.40 419.10,506.96 419.60,506.54" fill="none" stroke="#0000ff" stroke-width="5.1" stroke-linecap="round" stroke-linejoin="round"/>
<clipPath id="cc"><rect x="376.5" y="313.5" width="302" height="238"/></clipPath>
<g fill="#0000ff" clip-path="url(#cc)"><circle cx="436.93" cy="494.48" r="2.2"/><circle cx="431.43" cy="497.98" r="2.2"/><circle cx="426.85" cy="501.50" r="2.2"/><circle cx="422.98" cy="504.19" r="2.2"/><circle cx="419.66" cy="506.80" r="2.2"/><circle cx="678.80" cy="380.50" r="2.2"/><circle cx="577.70" cy="421.70" r="2.2"/><circle cx="527.40" cy="449.00" r="2.2"/><circle cx="497.20" cy="465.40" r="2.2"/><circle cx="477.40" cy="476.60" r="2.2"/><circle cx="462.90" cy="477.30" r="2.2"/><circle cx="451.80" cy="484.30" r="2.2"/><circle cx="443.50" cy="490.00" r="2.2"/><circle cx="436.90" cy="494.50" r="2.2"/></g>
</svg>
</body></html>
